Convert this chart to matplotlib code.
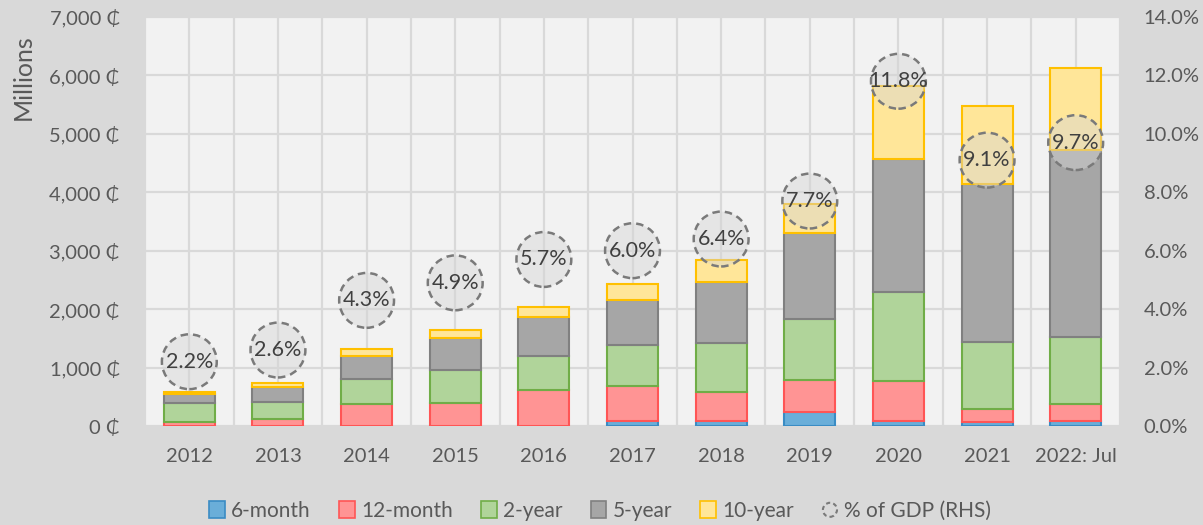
import matplotlib
matplotlib.use("Agg")
import matplotlib.pyplot as plt
import matplotlib.patches as mpatches
from matplotlib.legend_handler import HandlerPatch
from matplotlib.ticker import FuncFormatter, MultipleLocator, FixedLocator
import numpy as np

plt.rcParams['font.family'] = ['Lato', 'DejaVu Sans']

years = ["2012", "2013", "2014", "2015", "2016", "2017", "2018", "2019", "2020", "2021", "2022: Jul"]
m6 = [0, 0, 0, 0, 0, 90, 90, 235, 90, 75, 90]
m12 = [75, 125, 375, 395, 615, 600, 500, 555, 680, 210, 280]
y2 = [315, 290, 430, 555, 585, 700, 830, 1045, 1530, 1145, 1145]
y5 = [155, 245, 395, 555, 665, 775, 1045, 1475, 2270, 2720, 3205]
y10 = [35, 70, 120, 145, 175, 265, 370, 490, 1245, 1335, 1415]
gdp_pct = [2.2, 2.6, 4.3, 4.9, 5.7, 6.0, 6.4, 7.7, 11.8, 9.1, 9.7]

series = [
    ("6-month", m6, "#6aaed9", "#3a8cc4"),
    ("12-month", m12, "#ff9494", "#ff5555"),
    ("2-year", y2, "#b0d49a", "#70ad47"),
    ("5-year", y5, "#a6a6a6", "#808080"),
    ("10-year", y10, "#ffe699", "#ffc000"),
]

W, H = 1203, 525
fig = plt.figure(figsize=(W / 100, H / 100), dpi=100)
fig.patch.set_facecolor("#d9d9d9")
ax = fig.add_axes([145 / W, 1 - 426 / H, (1120 - 145) / W, (426 - 17) / H])
ax.set_facecolor("#f2f2f2")

x = np.arange(len(years))
bottom = np.zeros(len(years))
handles = []
for name, vals, fc, ec in series:
    v = np.array(vals, dtype=float)
    ax.bar(x, v, width=0.575, bottom=bottom, color=fc, edgecolor=ec, linewidth=1.5, zorder=3)
    bottom += v
    handles.append(mpatches.Patch(facecolor=fc, edgecolor=ec, linewidth=1.2, label=name))

ax.set_xlim(-0.5, len(years) - 0.5)
ax.set_ylim(0, 7000)
ax.yaxis.set_major_locator(MultipleLocator(1000))
ax.yaxis.set_major_formatter(FuncFormatter(lambda v, p: f"{int(v):,} \u20b5"))
ax.set_xticks(x)
ax.set_xticklabels(years)
ax.xaxis.set_minor_locator(FixedLocator(np.arange(-0.5, len(years), 1.0)))
ax.grid(True, which="both", color="#d9d9d9", linewidth=1.6, zorder=0)
ax.set_axisbelow(True)
for s in ax.spines.values():
    s.set_visible(False)
ax.tick_params(axis="both", which="both", length=0, labelsize=14.5, colors="#595959")
ax.tick_params(axis="x", pad=16)
ax.tick_params(axis="y", pad=18)

ax2 = ax.twinx()
ax2.set_ylim(0, 14)
ax2.yaxis.set_major_locator(MultipleLocator(2))
ax2.yaxis.set_major_formatter(FuncFormatter(lambda v, p: f"{v:.1f}%"))
for s in ax2.spines.values():
    s.set_visible(False)
ax2.tick_params(axis="y", length=0, labelsize=14.5, colors="#595959", pad=17)
ax2.patch.set_visible(False)

ax2.scatter(x, gdp_pct, s=1560, facecolors=(0.84, 0.84, 0.84, 0.45), edgecolors="#7a7a7a",
            linewidths=1.8, linestyle=(0, (3, 2)), zorder=5)
for xi, g in zip(x, gdp_pct):
    ax2.text(xi, g, f"{g:.1f}%", ha="center", va="center", fontsize=15.5, color="#404040", zorder=6)

fig.text(23 / W, 1 - 77 / H, "Millions", rotation=90, ha="center", va="center",
         fontsize=18, color="#595959")


def make_circle(legend, orig_handle, xdescent, ydescent, width, height, fontsize):
    r = min(width, height) / 2 * 0.9
    return mpatches.Circle((width / 2 - xdescent, height / 2 - ydescent), r)


circ = mpatches.Circle((0, 0), 1, facecolor="none", edgecolor="#7a7a7a", linewidth=1.5,
                       linestyle=(0, (2, 1.5)), label="% of GDP (RHS)")
handles.append(circ)
leg = fig.legend(handles=handles, loc="center", bbox_to_anchor=(0.4988, 1 - 511 / H), ncol=6,
                 frameon=False, fontsize=15, handlelength=0.75, handleheight=0.9,
                 handletextpad=0.3, columnspacing=1.36,
                 handler_map={mpatches.Circle: HandlerPatch(patch_func=make_circle)})
for t in leg.get_texts():
    t.set_color("#595959")

fig.savefig("out.png", dpi=100, facecolor=fig.get_facecolor())
